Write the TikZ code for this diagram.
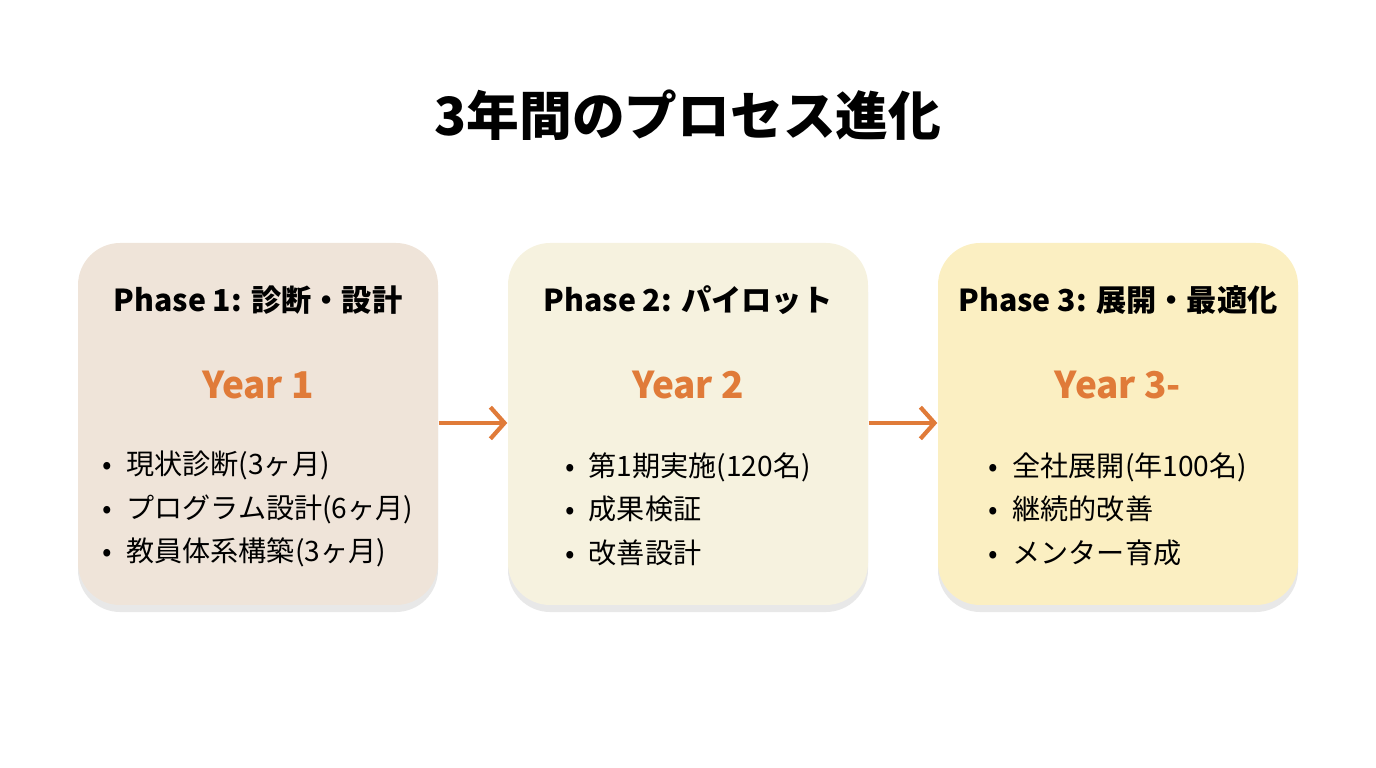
\documentclass[tikz,border=0pt]{standalone}
\usepackage{fontspec}
\setmainfont{Noto Sans CJK JP}
\usetikzlibrary{arrows.meta,positioning,shadows}
\definecolor{accent}{HTML}{E07B39}
\definecolor{phaseA}{HTML}{EFE4D9}
\definecolor{phaseB}{HTML}{F6F2DF}
\definecolor{phaseC}{HTML}{FBEFC2}
\tikzset{
  phasebox/.style = {rounded corners=12pt, minimum width=3.6cm, minimum height=3.62cm,
                     drop shadow={opacity=0.18, shadow xshift=0pt, shadow yshift=-2pt}},
  heading/.style  = {font=\bfseries\fontsize{8.6}{10}\selectfont},
  yearlbl/.style  = {font=\bfseries\fontsize{10.5}{12}\selectfont, text=accent},
  items/.style    = {font=\fontsize{8}{12.4}\selectfont, align=left},
  arrow/.style    = {draw=accent, line width=1.2pt, -{Straight Barb[length=4pt,width=9pt]}}
}
\begin{document}
\begin{tikzpicture}
\useasboundingbox (0,0) rectangle (13.76,7.68);

% title
\node (title) at (6.88,6.53) {\bfseries\fontsize{15}{18}\selectfont 3年間のプロセス進化};

% phases
\node (p1) [phasebox, fill=phaseA] at (2.58,3.44) {};
\node (p2) [phasebox, fill=phaseB] at (6.88,3.44) {};
\node (p3) [phasebox, fill=phaseC] at (11.18,3.44) {};

\node (h1) [heading] at ([yshift=1.24cm]p1.center) {Phase 1: 診断・設計};
\node (h2) [heading] at ([yshift=1.24cm]p2.center) {Phase 2: パイロット};
\node (h3) [heading] at ([yshift=1.24cm]p3.center) {Phase 3: 展開・最適化};

\node (y1) [yearlbl] at ([yshift=0.39cm]p1.center) {Year 1};
\node (y2) [yearlbl] at ([yshift=0.39cm]p2.center) {Year 2};
\node (y3) [yearlbl] at ([yshift=0.39cm]p3.center) {Year 3-};

\node (l1) [items] at ([yshift=-0.85cm]p1.center)
  {•\enspace 現状診断(3ヶ月)\\ •\enspace プログラム設計(6ヶ月)\\ •\enspace 教員体系構築(3ヶ月)};
\node (l2) [items] at ([yshift=-0.85cm]p2.center)
  {•\enspace 第1期実施(120名)\\ •\enspace 成果検証\\ •\enspace 改善設計};
\node (l3) [items] at ([yshift=-0.85cm]p3.center)
  {•\enspace 全社展開(年100名)\\ •\enspace 継続的改善\\ •\enspace メンター育成};

% connectors
\draw [arrow] ([yshift=0.01cm]p1.east) -- ([yshift=0.01cm]p2.west);
\draw [arrow] ([yshift=0.01cm]p2.east) -- ([yshift=0.01cm]p3.west);
\end{tikzpicture}
\end{document}
